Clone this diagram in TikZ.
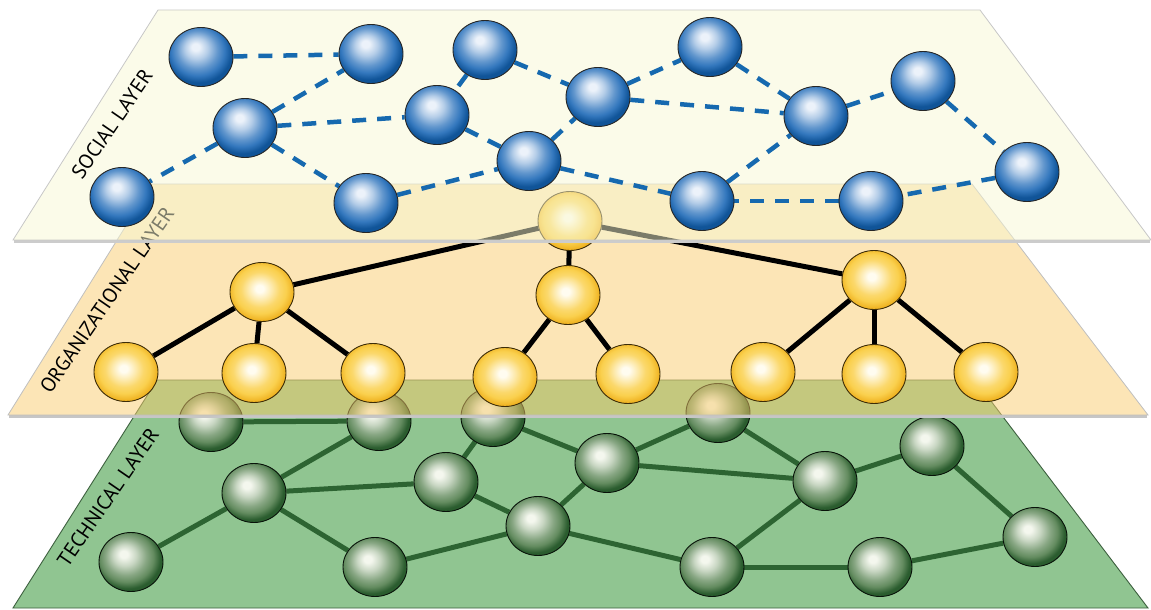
\documentclass[tikz,border=0pt]{standalone}
\usepackage{fontspec}
\setmainfont{PT Sans}
\usetikzlibrary{shapes.geometric}
\definecolor{socfill}{RGB}{247,247,211}
\definecolor{orgfill}{RGB}{249,203,109}
\definecolor{techfill}{RGB}{144,197,145}
\definecolor{techedge}{RGB}{60,95,62}
\definecolor{dashblue}{RGB}{22,105,175}
\definecolor{techline}{RGB}{45,100,50}
\definecolor{blueHi}{RGB}{236,242,250}
\definecolor{blueMid}{RGB}{52,120,190}
\definecolor{blueDk}{RGB}{16,84,152}
\definecolor{yelHi}{RGB}{255,252,240}
\definecolor{yelMid}{RGB}{250,208,78}
\definecolor{yelDk}{RGB}{238,176,30}
\definecolor{grnHi}{RGB}{244,247,238}
\definecolor{grnMid}{RGB}{100,140,96}
\definecolor{grnDk}{RGB}{42,92,46}
\pgfdeclareradialshading{sphblue}{\pgfpoint{-4.5bp}{9bp}}{color(0bp)=(blueHi); color(3bp)=(blueHi); color(9bp)=(blueHi!70!blueMid); color(16bp)=(blueHi!25!blueMid); color(21bp)=(blueMid); color(26bp)=(blueDk); color(50bp)=(blueDk)}
\pgfdeclareradialshading{sphyel}{\pgfpoint{-2bp}{3bp}}{color(0bp)=(yelHi); color(3bp)=(yelHi); color(9bp)=(yelHi!60!yelMid); color(15bp)=(yelHi!18!yelMid); color(20bp)=(yelMid); color(26bp)=(yelDk); color(50bp)=(yelDk)}
\pgfdeclareradialshading{sphgrn}{\pgfpoint{-6bp}{7bp}}{color(0bp)=(grnHi); color(3bp)=(grnHi); color(9bp)=(grnHi!70!grnMid); color(16bp)=(grnHi!25!grnMid); color(21bp)=(grnMid); color(26bp)=(grnDk); color(50bp)=(grnDk)}
\pgfdeclarelayer{techplane}
\pgfdeclarelayer{techlinks}
\pgfdeclarelayer{technodes}
\pgfdeclarelayer{orgplane}
\pgfdeclarelayer{orglinks}
\pgfdeclarelayer{orgnodes}
\pgfdeclarelayer{socplane}
\pgfdeclarelayer{soclinks}
\pgfsetlayers{techplane,techlinks,technodes,orgplane,orglinks,orgnodes,socplane,soclinks,main}
\tikzset{
  ballnode/.style={ellipse, minimum width=64pt, minimum height=59pt, inner sep=0pt, draw=black!85, line width=0.9pt},
  bnode/.style={ballnode, shading=sphblue},
  ynode/.style={ballnode, shading=sphyel, draw=black!75!yelDk},
  gnode/.style={ballnode, shading=sphgrn, draw=black!80!grnDk},
  soclink/.style={dashblue, line width=4.5pt, dash pattern=on 14pt off 11pt},
  orglink/.style={black, line width=5pt},
  techlink/.style={techline, line width=5pt},
  layerlabel/.style={font=\fontsize{20.5}{22}\selectfont, rotate=55.5, inner sep=0pt},
}
\begin{document}
\begin{tikzpicture}[x=1pt,y=-1pt]
\useasboundingbox (0,0) rectangle (1151,610);
% ---------- technical layer ----------
\begin{pgfonlayer}{techplane}
\fill[techfill] (157,380) -- (975,380) -- (1148,608) -- (13,608) -- cycle;
\draw[techedge, line width=0.9pt] (157,380) -- (975,380) -- (1148,608) -- (13,608) -- cycle;
\node[layerlabel] (tl) at (108,497) {TECHNICAL LAYER};
\end{pgfonlayer}
\begin{pgfonlayer}{technodes}
\node[gnode] (g1) at (211,422) {};
\node[gnode] (g2) at (254,493) {};
\node[gnode] (g3) at (131,562) {};
\node[gnode] (g4) at (379,421) {};
\node[gnode] (g5) at (375,567) {};
\node[gnode] (g6) at (493,417) {};
\node[gnode] (g7) at (446,482) {};
\node[gnode] (g8) at (538,526) {};
\node[gnode] (g9) at (607,463) {};
\node[gnode] (g10) at (718,413) {};
\node[gnode] (g11) at (712,567) {};
\node[gnode] (g12) at (825,481) {};
\node[gnode] (g13) at (932,446) {};
\node[gnode] (g14) at (1035,537) {};
\node[gnode] (g15) at (880,567) {};
\end{pgfonlayer}
\begin{pgfonlayer}{techlinks}
\foreach \a/\b in {g1/g4,g2/g4,g2/g7,g2/g3,g2/g5,g7/g6,g6/g9,g7/g8,g8/g9,g5/g8,g8/g11,g9/g10,g9/g12,g10/g12,g12/g11,g11/g15,g12/g13,g13/g14,g15/g14}
  \draw[techlink] (\a) -- (\b);
\end{pgfonlayer}
% ---------- organizational layer ----------
\begin{pgfonlayer}{orgplane}
\draw[gray!45, line width=2.2pt] (9,416.5) -- (1147,416.5);
\fill[orgfill, fill opacity=0.5] (152,184) -- (972,184) -- (1148,415) -- (8,415) -- cycle;
\draw[black!25, line width=0.8pt] (152,184) -- (972,184) -- (1148,415) -- (8,415) -- cycle;
\node[layerlabel] (ol) at (107,300) {ORGANIZATIONAL LAYER};
\end{pgfonlayer}
\begin{pgfonlayer}{orgnodes}
\node[ynode] (y0) at (570,221) {};
\node[ynode] (y1) at (262,292) {};
\node[ynode] (y2) at (568,295) {};
\node[ynode] (y3) at (874,280) {};
\node[ynode] (l1) at (126,372) {};
\node[ynode] (l2) at (254,373) {};
\node[ynode] (l3) at (373,373) {};
\node[ynode] (l4) at (505,377) {};
\node[ynode] (l5) at (628,374) {};
\node[ynode] (l6) at (763,372) {};
\node[ynode] (l7) at (874,374) {};
\node[ynode] (l8) at (986,372) {};
\end{pgfonlayer}
\begin{pgfonlayer}{orglinks}
\foreach \a/\b in {y0/y1,y0/y2,y0/y3,y1/l1,y1/l2,y1/l3,y2/l4,y2/l5,y3/l6,y3/l7,y3/l8}
  \draw[orglink] (\a) -- (\b);
\end{pgfonlayer}
% ---------- social layer ----------
\begin{pgfonlayer}{socplane}
\draw[gray!40, line width=2.2pt] (14,241.5) -- (1150,241.5);
\fill[socfill, fill opacity=0.5] (158,10) -- (980,10) -- (1151,240) -- (13,240) -- cycle;
\draw[black!22, line width=0.8pt] (158,10) -- (980,10) -- (1151,240) -- (13,240) -- cycle;
\node[layerlabel] (sl) at (112,124) {SOCIAL LAYER};
\end{pgfonlayer}
\node[bnode] (b1) at (201,57) {};
\node[bnode] (b2) at (371,54) {};
\node[bnode] (b3) at (245,128) {};
\node[bnode] (b4) at (122,197) {};
\node[bnode] (b5) at (366,203) {};
\node[bnode] (b6) at (485,50) {};
\node[bnode] (b7) at (437,115) {};
\node[bnode] (b8) at (598,97) {};
\node[bnode] (b9) at (529,161) {};
\node[bnode] (b10) at (710,47) {};
\node[bnode] (b11) at (702,201) {};
\node[bnode] (b12) at (816,116) {};
\node[bnode] (b13) at (923,81) {};
\node[bnode] (b14) at (1027,172) {};
\node[bnode] (b15) at (871,201) {};
\begin{pgfonlayer}{soclinks}
\foreach \a/\b in {b1/b2,b3/b2,b3/b4,b3/b7,b3/b5,b5/b9,b6/b7,b6/b8,b7/b9,b9/b8,b8/b10,b8/b12,b10/b12,b12/b13,b13/b14,b14/b15,b15/b11,b11/b12,b9/b11}
  \draw[soclink] (\a) -- (\b);
\end{pgfonlayer}
\end{tikzpicture}
\end{document}
